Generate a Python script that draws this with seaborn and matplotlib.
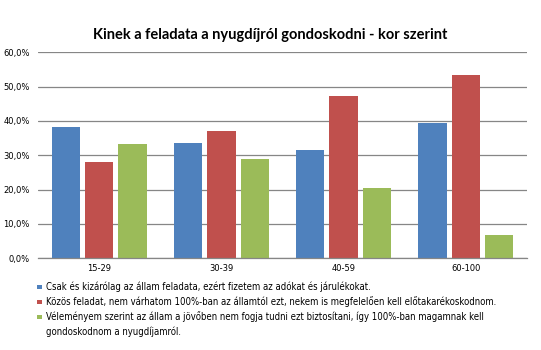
import matplotlib
matplotlib.use("Agg")
import matplotlib.pyplot as plt
from matplotlib.patches import Rectangle
from matplotlib.font_manager import FontProperties
from matplotlib.ticker import FuncFormatter, MultipleLocator
import seaborn as sns
import pandas as pd

age_groups = ["15-29", "30-39", "40-59", "60-100"]
answers = [
    "Csak és kizárólag az állam feladata, ezért fizetem az adókat és járulékokat.",
    "Közös feladat, nem várhatom 100%-ban az államtól ezt, nekem is megfelelően kell előtakarékoskodnom.",
    "Véleményem szerint az állam a jövőben nem fogja tudni ezt biztosítani, így 100%-ban magamnak kell\ngondoskodnom a nyugdíjamról.",
]
state_only = [38.3, 33.7, 31.6, 39.4]
shared = [28.1, 37.1, 47.4, 53.4]
self_care = [33.4, 29.0, 20.5, 6.9]
colors = ["#4F81BD", "#C0504D", "#9BBB59"]

rows = []
for ans, vals in zip(answers, [state_only, shared, self_care]):
    for grp, v in zip(age_groups, vals):
        rows.append({"kor": grp, "valasz": ans, "arany": v / 100})
df = pd.DataFrame(rows)

sns.set_theme(style="white")
plt.rcParams["font.family"] = ["DejaVu Sans"]

W, H = 541, 350
fig = plt.figure(figsize=(W / 100, H / 100), dpi=100)
ax = fig.add_axes([38 / W, 1 - 258.3 / H, (527 - 38) / W, (258.3 - 52.3) / H])

sns.barplot(data=df, x="kor", y="arany", hue="valasz", hue_order=answers,
            palette=colors, width=0.82, gap=0.15, saturation=1,
            edgecolor="none", linewidth=0, ax=ax, legend=False)

ax.set_ylim(0, 0.6)
ax.set_xlim(-0.5, 3.5)
ax.yaxis.set_major_locator(MultipleLocator(0.1))
ax.yaxis.set_major_formatter(FuncFormatter(lambda v, p: f"{v * 100:.1f}%".replace(".", ",")))
ax.grid(axis="y", color="#868686", linewidth=0.9)
ax.set_axisbelow(True)
for s in ["left", "right", "top"]:
    ax.spines[s].set_visible(False)
ax.spines["bottom"].set_color("#868686")
ax.spines["bottom"].set_linewidth(0.9)
ax.tick_params(axis="y", length=0, labelsize=6, pad=6, colors="#000000")
ax.tick_params(axis="x", length=0, labelsize=6, pad=4, colors="#000000")
ax.set_xlabel("")
ax.set_ylabel("")

fig.text(0.5, 1 - 35 / H, "Kinek a feladata a nyugdíjról gondoskodni - kor szerint",
         ha="center", va="center", fontsize=10.5, fontweight="bold", color="black",
         family=["Lato", "DejaVu Sans"])

# legend below the plot: square key + condensed label; a wrapped entry keeps
# its key beside the first line
row_y = [287, 302, 317]
line_px = 15
text_x, key_x, key_size = 46, 37, 4.5

size = 7.0
probe = fig.text(0, 0, answers[1], fontproperties=FontProperties(
    family="DejaVu Sans", stretch="condensed", size=size))
fig.canvas.draw()
size *= 451 / probe.get_window_extent().width
probe.remove()
prop = FontProperties(family="DejaVu Sans", stretch="condensed", size=size)

for label, color, y in zip(answers, colors, row_y):
    fig.add_artist(Rectangle((key_x / W, 1 - (y + key_size / 2) / H), key_size / W, key_size / H,
                             transform=fig.transFigure, facecolor=color, edgecolor="none"))
    for i, line in enumerate(label.split("\n")):
        fig.text(text_x / W, 1 - (y + i * line_px) / H, line, ha="left", va="center",
                 fontproperties=prop, color="black")

fig.savefig("out.png", dpi=100)
